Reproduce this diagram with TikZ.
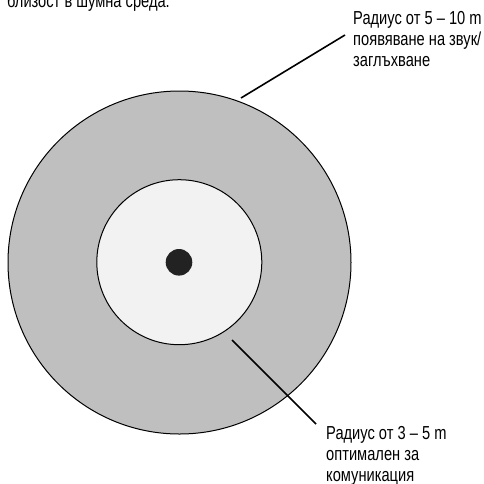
\documentclass[tikz,border=0pt]{standalone}
\usepackage{fontspec}
\newfontfamily\labelfont[FakeStretch=0.78]{Liberation Sans}
\definecolor{ringgray}{HTML}{BFBFBF}
\definecolor{corelight}{HTML}{F2F2F2}
\definecolor{dotdark}{HTML}{222222}
\begin{document}
\begin{tikzpicture}[x=1pt,y=-1pt,
  ring/.style={draw=black,line width=1pt},
  leader/.style={draw=black,line width=1.6pt},
  label/.style={anchor=base west,align=left,inner sep=0pt,
    font=\labelfont\fontsize{18.8}{20.8}\selectfont}]
  \useasboundingbox (0,0) rectangle (484,483);
  % zones around the speaker
  \fill[ringgray] (179.5,262.5) circle[radius=171.5];
  \draw[ring] (179.5,262.5) circle[radius=171.5];
  \fill[corelight] (179.3,262.2) circle[radius=82.5];
  \draw[ring] (179.3,262.2) circle[radius=82.5];
  \fill[dotdark] (179,262.3) circle[radius=13.3];
  % leader lines
  \coordinate (outerpt) at (241,98);
  \coordinate (outerend) at (345,35);
  \coordinate (innerpt) at (232,340);
  \coordinate (innerend) at (316,424);
  \draw[leader] (outerpt) -- (outerend);
  \draw[leader] (innerpt) -- (innerend);
  % labels (base anchor sits on the last line)
  \node[label] (toptext) at (7,7.5) {близост в шумна среда.};
  \node[label] (outerlabel) at (353,66.5) {Радиус от 5 – 10 m\\появяване на звук/\\заглъхване};
  \node[label] (innerlabel) at (326,481) {Радиус от 3 – 5 m\\оптимален за\\комуникация};
\end{tikzpicture}
\end{document}
